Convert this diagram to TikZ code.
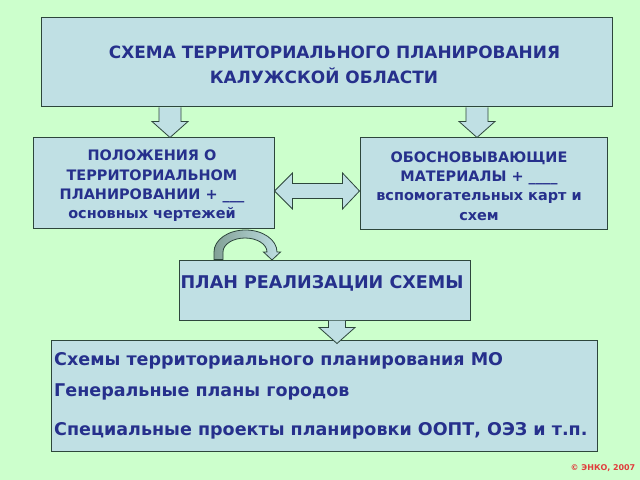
\documentclass[tikz,border=0pt]{standalone}
\usepackage{fontspec}
\setmainfont{DejaVu Sans}
\usetikzlibrary{calc}
\definecolor{bg}{RGB}{204,255,204}
\definecolor{boxfill}{RGB}{192,224,228}
\definecolor{boxline}{RGB}{45,70,60}
\definecolor{navy}{RGB}{38,48,140}
\definecolor{arcdark}{RGB}{130,160,150}
\definecolor{copyred}{RGB}{225,60,60}
\tikzset{
  box/.style={draw=boxline, fill=boxfill, line width=1bp, inner sep=0pt},
  txt/.style={text=navy, font=\bfseries, inner sep=0pt},
  barrow/.style={draw=boxline, fill=boxfill, line width=0.8bp, line join=miter},
  sidetxt/.style={txt, align=center, font=\bfseries\fontsize{14.5}{19.4}\selectfont},
  bigtxt/.style={txt, font=\bfseries\fontsize{17.6}{20}\selectfont},
}
\begin{document}
\begin{tikzpicture}[x=1bp,y=-1bp]
\fill[bg] (0,0) rectangle (640,480);
\useasboundingbox (0,0) rectangle (640,480);

% boxes
\node[box, minimum width=570bp, minimum height=89bp] (top) at (327,62.5) {};
\node[box, minimum width=240bp, minimum height=90bp] (left) at (154,183) {};
\node[box, minimum width=247bp, minimum height=91bp] (right) at (483.5,183.5) {};
\node[box, minimum width=291bp, minimum height=60bp] (mid) at (324.5,290) {};
\node[box, minimum width=545bp, minimum height=111bp] (bot) at (324.5,395.5) {};

% texts
\node[txt, font=\bfseries\fontsize{17}{20}\selectfont] (top1) at (334.5,52)
  {СХЕМА ТЕРРИТОРИАЛЬНОГО ПЛАНИРОВАНИЯ};
\node[txt, font=\bfseries\fontsize{17}{20}\selectfont] (top2) at (324,76)
  {КАЛУЖСКОЙ ОБЛАСТИ};
\node[sidetxt] (lefttxt) at (152,186)
  {ПОЛОЖЕНИЯ О\\ТЕРРИТОРИАЛЬНОМ\\ПЛАНИРОВАНИИ + \_\_\_\\основных чертежей};
\node[sidetxt] (righttxt) at (479,186)
  {ОБОСНОВЫВАЮЩИЕ\\МАТЕРИАЛЫ + \_\_\_\_\\вспомогательных карт и\\схем};
\node[bigtxt] (midtxt) at (322,283)
  {ПЛАН РЕАЛИЗАЦИИ СХЕМЫ};
\node[bigtxt, anchor=west] (b1) at (54,361)
  {Схемы территориального планирования МО};
\node[bigtxt, anchor=west] (b2) at (54,392)
  {Генеральные планы городов};
\node[bigtxt, anchor=west] (b3) at (54,431)
  {Специальные проекты планировки ООПТ, ОЭЗ и т.п.};
\node[text=copyred, font=\bfseries\fontsize{8}{10}\selectfont, inner sep=0pt] (copy) at (603,468)
  {© ЭНКО, 2007};

% down arrows
\coordinate (a1s) at (170,0 |- top.south);
\coordinate (a1e) at (170,0 |- left.north);
\draw[barrow] ($(a1s)+(-11,0)$) -- ($(a1e)+(-11,-16)$) -- ($(a1e)+(-18,-16)$) -- (a1e)
  -- ($(a1e)+(18,-16)$) -- ($(a1e)+(11,-16)$) -- ($(a1s)+(11,0)$);
\coordinate (a2s) at (477,0 |- top.south);
\coordinate (a2e) at (477,0 |- right.north);
\draw[barrow] ($(a2s)+(-11,0)$) -- ($(a2e)+(-11,-16)$) -- ($(a2e)+(-18,-16)$) -- (a2e)
  -- ($(a2e)+(18,-16)$) -- ($(a2e)+(11,-16)$) -- ($(a2s)+(11,0)$);
\coordinate (a3s) at (337,0 |- mid.south);
\coordinate (a3e) at (337,0 |- bot.north);
\draw[barrow] ($(a3s)+(-8.5,0)$) -- ($(a3e)+(-8.5,-12)$) -- ($(a3e)+(-18,-12)$) -- ($(a3e)+(0,4)$)
  -- ($(a3e)+(18,-12)$) -- ($(a3e)+(8.5,-12)$) -- ($(a3s)+(8.5,0)$);

% double arrow
\coordinate (dl) at (left.east |- 0,191);
\coordinate (dr) at (right.west |- 0,191);
\draw[barrow] (dl) -- ($(dl)+(18,-18)$) -- ($(dl)+(18,-7.5)$) -- ($(dr)+(-17,-7.5)$)
  -- ($(dr)+(-17,-18)$) -- (dr) -- ($(dr)+(-17,18)$) -- ($(dr)+(-17,7.5)$)
  -- ($(dl)+(18,7.5)$) -- ($(dl)+(18,18)$) -- cycle;

% curved arrow
\draw[draw=boxline, line width=0.8bp, left color=arcdark, right color=boxfill]
  (214,0 |- mid.north) -- (214,252) arc[start angle=180, end angle=360, x radius=31.5, y radius=22]
  -- (280.5,252) -- (272,260) -- (263.5,252) -- (267,252)
  arc[start angle=0, end angle=-180, x radius=22, y radius=14]
  -- (223,0 |- mid.north) -- cycle;
\end{tikzpicture}
\end{document}
